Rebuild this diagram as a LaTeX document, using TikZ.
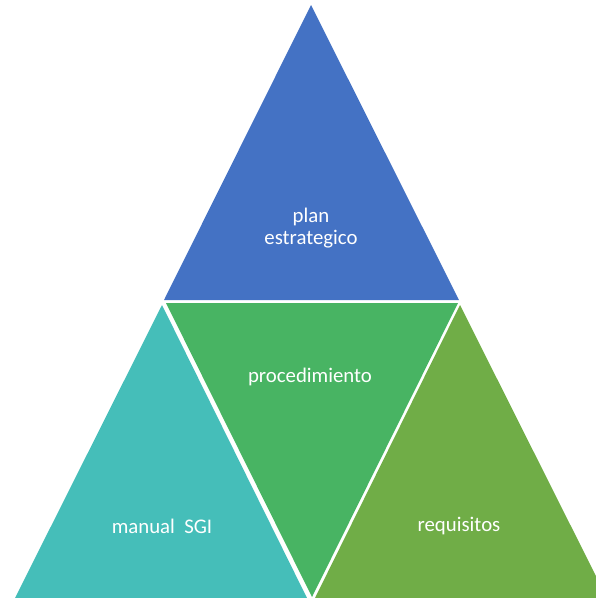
\documentclass[tikz,border=0pt]{standalone}
\usepackage{fontspec}
\setmainfont{Carlito}
\definecolor{cblue}{RGB}{68,114,196}
\definecolor{cmid}{RGB}{72,180,99}
\definecolor{cteal}{RGB}{69,190,185}
\definecolor{cgreen}{RGB}{112,173,71}
\tikzset{lbl/.style={text=white,font=\fontsize{20.8}{22.5}\selectfont,align=center,inner sep=0pt}}
\begin{document}
\begin{tikzpicture}[x=1pt,y=-1pt]
\useasboundingbox (0,0) rectangle (596,598);
\begin{scope}
\clip (0,0) rectangle (596,598);
\fill[cblue] (311,5) -- (164,300) -- (459,300) -- cycle;
\fill[cmid] (166,303) -- (458,303) -- (312,597) -- cycle;
\fill[cteal] (162,305) -- (15,598) -- (307,598) -- cycle;
\fill[cgreen] (460,305) -- (315,598) -- (607,598) -- cycle;
\end{scope}
\node[lbl] (top) at (311,228) {plan\\estrategico};
\node[lbl] (mid) at (310,377) {procedimiento};
\node[lbl] (left) at (162,526) {manual\ \ SGI};
\node[lbl] (right) at (459,526) {requisitos};
\end{tikzpicture}
\end{document}
